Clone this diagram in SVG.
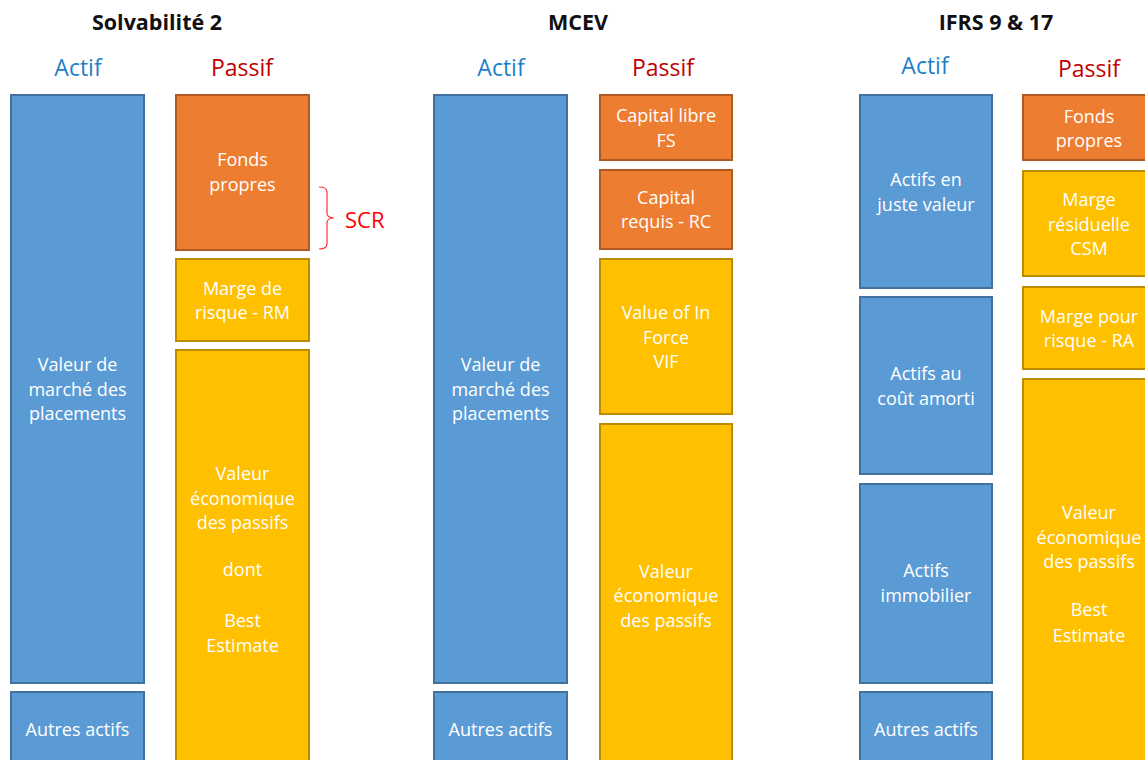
<svg xmlns="http://www.w3.org/2000/svg" width="1145" height="760" viewBox="0 0 1145 760">
  <style>
    .title { font-family: "Open Sans", "Liberation Sans", sans-serif; font-weight: bold; font-size: 21.5px; fill: #111; text-anchor: middle; }
    .head { font-family: "Open Sans", "Liberation Sans", sans-serif; font-size: 23px; text-anchor: middle; }
    .actif { fill: #1F7FC8; }
    .passif { fill: #C00000; }
    .blue { fill: #5B9BD5; stroke: #41719C; stroke-width: 2; }
    .orange { fill: #ED7D31; stroke: #AE5A21; stroke-width: 2; }
    .yellow { fill: #FFC000; stroke: #BC8C00; stroke-width: 2; }
    .lbl { font-family: "Open Sans", "Liberation Sans", sans-serif; font-size: 18px; fill: #FFFFFF; text-anchor: middle; dominant-baseline: central; }
    .scr { font-family: "Open Sans", "Liberation Sans", sans-serif; font-size: 22px; fill: #FF0000; dominant-baseline: central; }
  </style>
  <rect width="1145" height="760" fill="#FFFFFF"/>

  <!-- Section titles -->
  <text class="title" x="157" y="30">Solvabilité 2</text>
  <text class="title" x="578" y="30">MCEV</text>
  <text class="title" x="996" y="30">IFRS 9 &amp; 17</text>

  <!-- Column headers -->
  <text class="head actif" x="78" y="76">Actif</text>
  <text class="head passif" x="242" y="76">Passif</text>
  <text class="head actif" x="501" y="76">Actif</text>
  <text class="head passif" x="663" y="76">Passif</text>
  <text class="head actif" x="925" y="74">Actif</text>
  <text class="head passif" x="1089" y="77">Passif</text>

  <!-- Solvabilité 2 -->
  <g id="s2-placements">
    <rect class="blue" x="11" y="95" width="133" height="588"/>
    <text class="lbl" x="77.5" y="364">Valeur de</text>
    <text class="lbl" x="77.5" y="388.5">marché des</text>
    <text class="lbl" x="77.5" y="413">placements</text>
  </g>
  <g id="s2-autres">
    <rect class="blue" x="11" y="692" width="133" height="80"/>
    <text class="lbl" x="77.5" y="729">Autres actifs</text>
  </g>
  <g id="s2-fonds">
    <rect class="orange" x="176" y="95" width="133" height="155"/>
    <text class="lbl" x="242.5" y="159">Fonds</text>
    <text class="lbl" x="242.5" y="183.5">propres</text>
  </g>
  <g id="s2-rm">
    <rect class="yellow" x="176" y="259" width="133" height="82"/>
    <text class="lbl" x="242.5" y="288">Marge de</text>
    <text class="lbl" x="242.5" y="312">risque - RM</text>
  </g>
  <g id="s2-be">
    <rect class="yellow" x="176" y="350" width="133" height="422"/>
    <text class="lbl" x="242.5" y="473">Valeur</text>
    <text class="lbl" x="242.5" y="497.5">économique</text>
    <text class="lbl" x="242.5" y="522">des passifs</text>
    <text class="lbl" x="242.5" y="569">dont</text>
    <text class="lbl" x="242.5" y="620">Best</text>
    <text class="lbl" x="242.5" y="645">Estimate</text>
  </g>
  <g id="s2-scr">
    <path d="M319,187 Q327,187 327,192 L327,213 Q327,218 334,218 Q327,218 327,223 L327,244 Q327,249 319,249" fill="none" stroke="#FF3333" stroke-width="1.2"/>
    <text class="scr" x="345" y="219">SCR</text>
  </g>

  <!-- MCEV -->
  <g id="mcev-placements">
    <rect class="blue" x="434" y="95" width="133" height="588"/>
    <text class="lbl" x="500.5" y="364">Valeur de</text>
    <text class="lbl" x="500.5" y="388.5">marché des</text>
    <text class="lbl" x="500.5" y="413">placements</text>
  </g>
  <g id="mcev-autres">
    <rect class="blue" x="434" y="692" width="133" height="80"/>
    <text class="lbl" x="500.5" y="729">Autres actifs</text>
  </g>
  <g id="mcev-fs">
    <rect class="orange" x="600" y="95" width="132" height="65"/>
    <text class="lbl" x="666" y="115">Capital libre</text>
    <text class="lbl" x="666" y="140">FS</text>
  </g>
  <g id="mcev-rc">
    <rect class="orange" x="600" y="170" width="132" height="79"/>
    <text class="lbl" x="666" y="197">Capital</text>
    <text class="lbl" x="666" y="221">requis - RC</text>
  </g>
  <g id="mcev-vif">
    <rect class="yellow" x="600" y="259" width="132" height="155"/>
    <text class="lbl" x="666" y="312">Value of In</text>
    <text class="lbl" x="666" y="336.5">Force</text>
    <text class="lbl" x="666" y="361">VIF</text>
  </g>
  <g id="mcev-be">
    <rect class="yellow" x="600" y="424" width="132" height="348"/>
    <text class="lbl" x="666" y="571">Valeur</text>
    <text class="lbl" x="666" y="595">économique</text>
    <text class="lbl" x="666" y="620">des passifs</text>
  </g>

  <!-- IFRS 9 & 17 -->
  <g id="ifrs-juste-valeur">
    <rect class="blue" x="860" y="95" width="132" height="193"/>
    <text class="lbl" x="926" y="179">Actifs en</text>
    <text class="lbl" x="926" y="203.5">juste valeur</text>
  </g>
  <g id="ifrs-cout-amorti">
    <rect class="blue" x="860" y="297" width="132" height="177"/>
    <text class="lbl" x="926" y="373">Actifs au</text>
    <text class="lbl" x="926" y="397.5">coût amorti</text>
  </g>
  <g id="ifrs-immobilier">
    <rect class="blue" x="860" y="484" width="132" height="199"/>
    <text class="lbl" x="926" y="570">Actifs</text>
    <text class="lbl" x="926" y="595">immobilier</text>
  </g>
  <g id="ifrs-autres">
    <rect class="blue" x="860" y="692" width="132" height="80"/>
    <text class="lbl" x="926" y="729">Autres actifs</text>
  </g>
  <g id="ifrs-fonds">
    <rect class="orange" x="1023" y="95" width="132" height="65"/>
    <text class="lbl" x="1089" y="116">Fonds</text>
    <text class="lbl" x="1089" y="140">propres</text>
  </g>
  <g id="ifrs-csm">
    <rect class="yellow" x="1023" y="171" width="132" height="105"/>
    <text class="lbl" x="1089" y="199">Marge</text>
    <text class="lbl" x="1089" y="224">résiduelle</text>
    <text class="lbl" x="1089" y="248">CSM</text>
  </g>
  <g id="ifrs-ra">
    <rect class="yellow" x="1023" y="287" width="132" height="82"/>
    <text class="lbl" x="1089" y="316">Marge pour</text>
    <text class="lbl" x="1089" y="340">risque - RA</text>
  </g>
  <g id="ifrs-be">
    <rect class="yellow" x="1023" y="379" width="132" height="393"/>
    <text class="lbl" x="1089" y="512">Valeur</text>
    <text class="lbl" x="1089" y="536.5">économique</text>
    <text class="lbl" x="1089" y="561">des passifs</text>
    <text class="lbl" x="1089" y="609">Best</text>
    <text class="lbl" x="1089" y="635">Estimate</text>
  </g>
</svg>
